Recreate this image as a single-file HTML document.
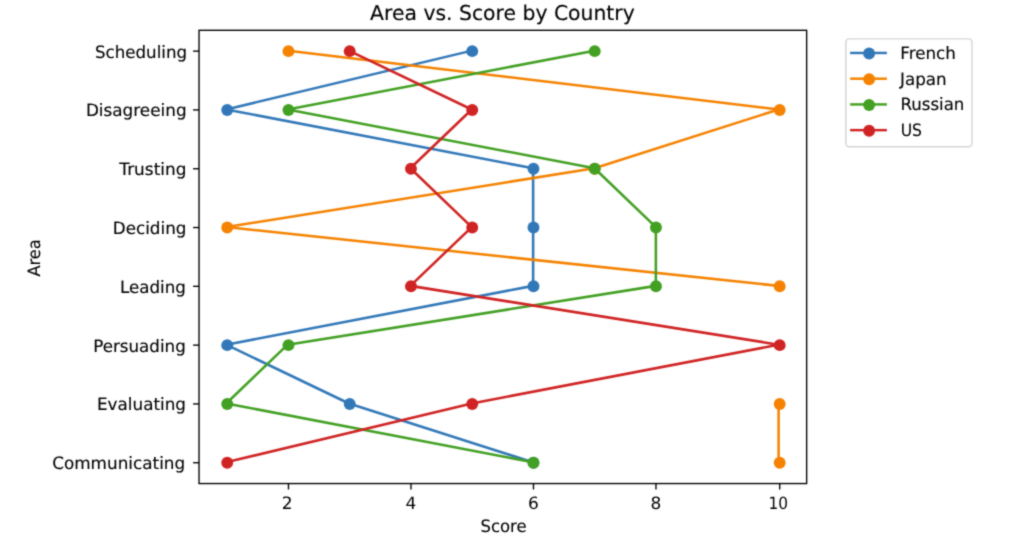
<!DOCTYPE html>
<html><head><meta charset="utf-8"><title>Area vs. Score by Country</title>
<style>
html,body{margin:0;padding:0;background:#fff;}
body{width:1024px;height:549px;overflow:hidden;}
svg{display:block;}
text{font-family:'DejaVu Sans', 'Liberation Sans', sans-serif;fill:#000;text-rendering:geometricPrecision;}
svg{will-change:transform;}
text.w{stroke:#000;stroke-width:0.11px;}
</style></head><body>
<svg width="1024" height="549" viewBox="0 0 1024 549">
<defs><filter id="bl" filterUnits="userSpaceOnUse" x="0" y="0" width="1024" height="549" color-interpolation-filters="sRGB"><feConvolveMatrix order="5" kernelMatrix="0.00001 0.00042 0.00170 0.00042 0.00001 0.00042 0.02740 0.10988 0.02740 0.00042 0.00170 0.10988 0.44065 0.10988 0.00170 0.00042 0.02740 0.10988 0.02740 0.00042 0.00001 0.00042 0.00170 0.00042 0.00001" edgeMode="duplicate" preserveAlpha="true"/></filter></defs>
<g filter="url(#bl)">
<rect width="1024" height="549" fill="#fff"/>
<g transform="matrix(1.225 0 0 1.225 15.91 -9.51)">
<clipPath id="ax"><rect x="149.5" y="32.5" width="496" height="370"/></clipPath>
<path d="M422.203 385.133 L271.9 337.133 L171.698 289.133 L422.203 241.133 L422.203 193.133 L422.203 145.133 L171.698 97.133 L372.102 49.133" fill="none" stroke="#3278b8" stroke-width="2.083" stroke-linejoin="round" stroke-linecap="square" clip-path="url(#ax)"/>
<circle cx="422.5" cy="385.5" r="4.861" fill="#3278b8"/>
<circle cx="272.5" cy="337.5" r="4.861" fill="#3278b8"/>
<circle cx="172.5" cy="289.5" r="4.861" fill="#3278b8"/>
<circle cx="422.5" cy="241.5" r="4.861" fill="#3278b8"/>
<circle cx="422.5" cy="193.5" r="4.861" fill="#3278b8"/>
<circle cx="422.5" cy="145.5" r="4.861" fill="#3278b8"/>
<circle cx="172.5" cy="97.5" r="4.861" fill="#3278b8"/>
<circle cx="372.5" cy="49.5" r="4.861" fill="#3278b8"/>
<path d="M622.607 385.133 L622.607 337.133 M622.607 241.133 L171.698 193.133 L472.304 145.133 L622.607 97.133 L221.799 49.133" fill="none" stroke="#f58200" stroke-width="2.083" stroke-linejoin="round" stroke-linecap="square" clip-path="url(#ax)"/>
<circle cx="623.5" cy="385.5" r="4.861" fill="#f58200"/>
<circle cx="623.5" cy="337.5" r="4.861" fill="#f58200"/>
<circle cx="623.5" cy="241.5" r="4.861" fill="#f58200"/>
<circle cx="172.5" cy="193.5" r="4.861" fill="#f58200"/>
<circle cx="472.5" cy="145.5" r="4.861" fill="#f58200"/>
<circle cx="623.5" cy="97.5" r="4.861" fill="#f58200"/>
<circle cx="222.5" cy="49.5" r="4.861" fill="#f58200"/>
<path d="M422.203 385.133 L171.698 337.133 L221.799 289.133 L522.405 241.133 L522.405 193.133 L472.304 145.133 L221.799 97.133 L472.304 49.133" fill="none" stroke="#42a023" stroke-width="2.083" stroke-linejoin="round" stroke-linecap="square" clip-path="url(#ax)"/>
<circle cx="422.5" cy="385.5" r="4.861" fill="#42a023"/>
<circle cx="172.5" cy="337.5" r="4.861" fill="#42a023"/>
<circle cx="222.5" cy="289.5" r="4.861" fill="#42a023"/>
<circle cx="522.5" cy="241.5" r="4.861" fill="#42a023"/>
<circle cx="522.5" cy="193.5" r="4.861" fill="#42a023"/>
<circle cx="472.5" cy="145.5" r="4.861" fill="#42a023"/>
<circle cx="222.5" cy="97.5" r="4.861" fill="#42a023"/>
<circle cx="472.5" cy="49.5" r="4.861" fill="#42a023"/>
<path d="M171.698 385.133 L372.102 337.133 L622.607 289.133 L322.001 241.133 L372.102 193.133 L322.001 145.133 L372.102 97.133 L271.9 49.133" fill="none" stroke="#d02323" stroke-width="2.083" stroke-linejoin="round" stroke-linecap="square" clip-path="url(#ax)"/>
<circle cx="172.5" cy="385.5" r="4.861" fill="#d02323"/>
<circle cx="372.5" cy="337.5" r="4.861" fill="#d02323"/>
<circle cx="623.5" cy="289.5" r="4.861" fill="#d02323"/>
<circle cx="322.5" cy="241.5" r="4.861" fill="#d02323"/>
<circle cx="372.5" cy="193.5" r="4.861" fill="#d02323"/>
<circle cx="322.5" cy="145.5" r="4.861" fill="#d02323"/>
<circle cx="372.5" cy="97.5" r="4.861" fill="#d02323"/>
<circle cx="272.5" cy="49.5" r="4.861" fill="#d02323"/>
<rect x="149.5" y="32.5" width="496" height="370" fill="none" stroke="#000" stroke-width="1.111" stroke-linejoin="miter"/>
<line x1="222.5" y1="402.5" x2="222.5" y2="407.361" stroke="#000" stroke-width="1.111"/>
<line x1="322.5" y1="402.5" x2="322.5" y2="407.361" stroke="#000" stroke-width="1.111"/>
<line x1="422.5" y1="402.5" x2="422.5" y2="407.361" stroke="#000" stroke-width="1.111"/>
<line x1="522.5" y1="402.5" x2="522.5" y2="407.361" stroke="#000" stroke-width="1.111"/>
<line x1="623.5" y1="402.5" x2="623.5" y2="407.361" stroke="#000" stroke-width="1.111"/>
<line x1="144.639" y1="49.5" x2="149.5" y2="49.5" stroke="#000" stroke-width="1.111"/>
<line x1="144.639" y1="97.5" x2="149.5" y2="97.5" stroke="#000" stroke-width="1.111"/>
<line x1="144.639" y1="145.5" x2="149.5" y2="145.5" stroke="#000" stroke-width="1.111"/>
<line x1="144.639" y1="193.5" x2="149.5" y2="193.5" stroke="#000" stroke-width="1.111"/>
<line x1="144.639" y1="241.5" x2="149.5" y2="241.5" stroke="#000" stroke-width="1.111"/>
<line x1="144.639" y1="289.5" x2="149.5" y2="289.5" stroke="#000" stroke-width="1.111"/>
<line x1="144.639" y1="337.5" x2="149.5" y2="337.5" stroke="#000" stroke-width="1.111"/>
<line x1="144.639" y1="385.5" x2="149.5" y2="385.5" stroke="#000" stroke-width="1.111"/>
<rect x="677.5" y="39.5" width="103" height="88" rx="2.778" ry="2.778" fill="#fff" fill-opacity="0.8" stroke="#cccccc" stroke-opacity="0.8" stroke-width="1.2"/>
<rect x="681" y="50" width="30" height="2" fill="#3278b8"/>
<circle cx="696.5" cy="51.5" r="4.861" fill="#3278b8"/>
<rect x="681" y="71" width="30" height="2" fill="#f58200"/>
<circle cx="696.5" cy="72.5" r="4.861" fill="#f58200"/>
<rect x="681" y="92" width="30" height="2" fill="#42a023"/>
<circle cx="696.5" cy="93.5" r="4.861" fill="#42a023"/>
<rect x="681" y="113" width="30" height="2" fill="#d02323"/>
<circle cx="696.5" cy="114.5" r="4.861" fill="#d02323"/>
<text class="w" x="29.605" y="390.351" style="font-size:13.889px" textLength="108.57" lengthAdjust="spacingAndGlyphs">Communicating</text>
<text class="w" x="66.217" y="342.172" style="font-size:13.889px" textLength="72.614" lengthAdjust="spacingAndGlyphs">Evaluating</text>
<text class="w" x="63.06" y="294.898" style="font-size:13.889px" textLength="75.621" lengthAdjust="spacingAndGlyphs">Persuading</text>
<text class="w" x="84.941" y="246.736" style="font-size:13.889px" textLength="53.815" lengthAdjust="spacingAndGlyphs">Leading</text>
<text class="w" x="79.067" y="198.488" style="font-size:13.889px" textLength="60.11" lengthAdjust="spacingAndGlyphs">Deciding</text>
<text class="w" x="84.432" y="150.393" style="font-size:13.889px" textLength="54.742" lengthAdjust="spacingAndGlyphs">Trusting</text>
<text class="w" x="57.144" y="102.25" style="font-size:13.889px" textLength="82.199" lengthAdjust="spacingAndGlyphs">Disagreeing</text>
<text class="w" x="64.561" y="54.811" style="font-size:13.889px" textLength="75.174" lengthAdjust="spacingAndGlyphs">Scheduling</text>
<text x="216.998" y="422.977" style="font-size:13.889px">2</text>
<text x="318" y="422.891" style="font-size:13.889px">4</text>
<text x="418.065" y="422.924" style="font-size:13.889px">6</text>
<text x="518.093" y="422.922" style="font-size:13.889px">8</text>
<text x="614.397" y="422.894" style="font-size:13.889px" textLength="15.947" lengthAdjust="spacingAndGlyphs">10</text>
<text class="w" x="379.219" y="441.702" style="font-size:13.889px" textLength="37.691" lengthAdjust="spacingAndGlyphs">Score</text>
<text class="w" transform="translate(19.406 218.313) rotate(-90)" text-anchor="middle" style="font-size:13.889px" textLength="30.497" lengthAdjust="spacingAndGlyphs">Area</text>
<text class="w" x="289.134" y="23.695" style="font-size:16.667px" textLength="216.059" lengthAdjust="spacingAndGlyphs">Area vs. Score by Country</text>
<text class="w" x="721.896" y="55.549" style="font-size:13.889px" textLength="45.402" lengthAdjust="spacingAndGlyphs">French</text>
<text class="w" x="721.739" y="76.766" style="font-size:13.889px" textLength="38.049" lengthAdjust="spacingAndGlyphs">Japan</text>
<text class="w" x="722.077" y="97.304" style="font-size:13.889px" textLength="52.157" lengthAdjust="spacingAndGlyphs">Russian</text>
<text class="w" x="722.259" y="118.454" style="font-size:13.889px" textLength="17.387" lengthAdjust="spacingAndGlyphs">US</text>
</g>
</g>
</svg>
</body></html>
